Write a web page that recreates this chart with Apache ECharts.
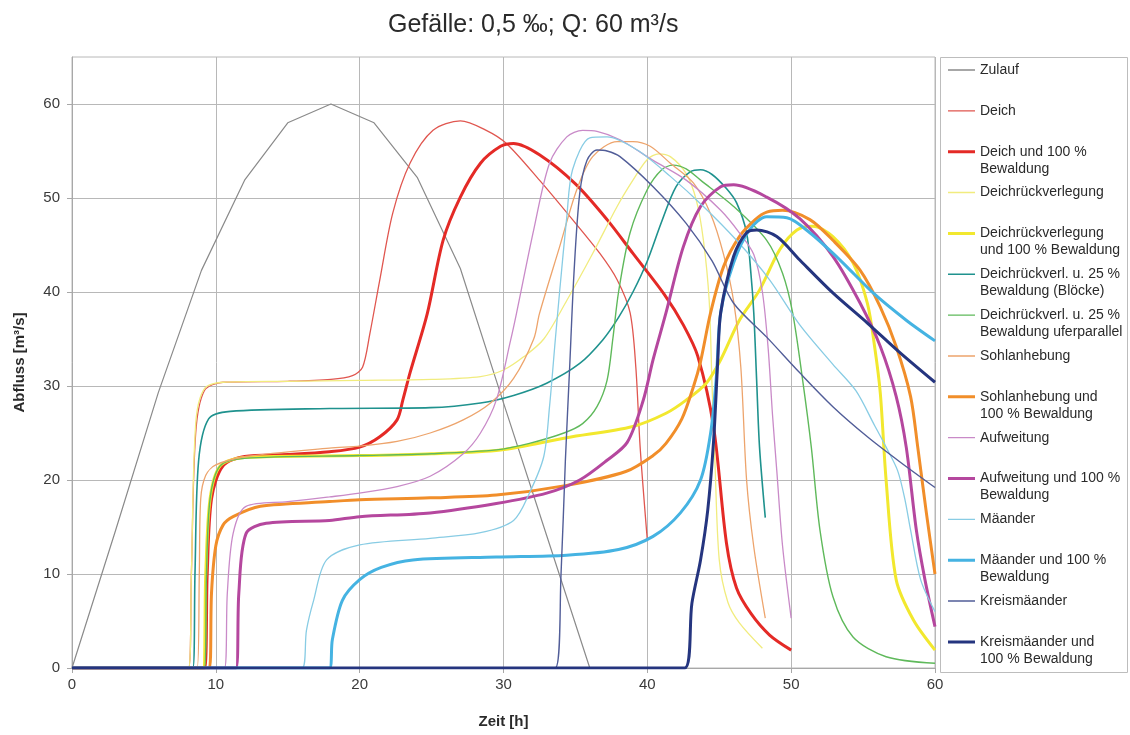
<!DOCTYPE html>
<html>
<head>
<meta charset="utf-8">
<script src="https://cdn.jsdelivr.net/npm/echarts@6/dist/echarts.min.js"></script>
<style>html,body{margin:0;padding:0;background:#fff}#c{width:1130px;height:735px}</style>
</head>
<body>
<div id="c"></div>
<script>
// ---- data (x = Zeit [h], y = Abfluss [m³/s]) ----
const titleText = 'Gefälle: 0,5 ‰; Q: 60 m³/s';
const xTicks = [0, 10, 20, 30, 40, 50, 60];
const yTicks = [0, 10, 20, 30, 40, 50, 60];

const seriesNames = [
  'Zulauf', 'Deich', 'Deich und 100 % Bewaldung', 'Deichrückverlegung',
  'Deichrückverlegung und 100 % Bewaldung', 'Deichrückverl. u. 25 % Bewaldung (Blöcke)',
  'Deichrückverl. u. 25 % Bewaldung uferparallel', 'Sohlanhebung',
  'Sohlanhebung und 100 % Bewaldung', 'Aufweitung', 'Aufweitung und 100 % Bewaldung',
  'Mäander', 'Mäander und 100 % Bewaldung', 'Kreismäander', 'Kreismäander und 100 % Bewaldung'
];
const legendLabels = [
  'Zulauf', 'Deich', 'Deich und 100 %\nBewaldung', 'Deichrückverlegung',
  'Deichrückverlegung\nund 100 % Bewaldung', 'Deichrückverl. u. 25 %\nBewaldung (Blöcke)',
  'Deichrückverl. u. 25 %\nBewaldung uferparallel', 'Sohlanhebung',
  'Sohlanhebung und\n100 % Bewaldung', 'Aufweitung', 'Aufweitung und 100 %\nBewaldung',
  'Mäander', 'Mäander und 100 %\nBewaldung', 'Kreismäander', 'Kreismäander und\n100 % Bewaldung'
];

const zulauf = [[0,0],[3,14.5],[6,29.3],[9,42.3],[12,51.9],[15,58],[18,60],[21,58],[24,52.2],[27,42.5],[30,28.2],[33,14.1],[36,0]];
const deich = [[0,0],[8.1,0],[8.3,10],[8.6,25],[9.2,29.5],[10.5,30.4],[15,30.5],[18,30.7],[19.5,31.1],[20.2,32],[20.7,35.5],[21.4,41.3],[22.3,48.4],[23.5,53.7],[25.1,57.2],[27,58.2],[28.8,57.2],[30.2,55.8],[32.5,51.9],[34.8,47.7],[36.7,44.1],[37.9,41.3],[38.8,37.8],[39.2,32],[39.5,23.5],[40,13.6]];
const deich100 = [[0,0],[9.2,0],[9.4,10],[9.7,18],[10.5,21.5],[12,22.5],[15,22.7],[17.9,23],[20,23.5],[21.4,24.6],[22.6,26.4],[23,28.5],[23.5,31.4],[24.7,37.7],[25.8,45.5],[27,50.1],[28.4,53.7],[29.8,55.5],[30.7,55.8],[32.5,54.6],[35,51.5],[37.2,47.7],[39,44.1],[41.2,39.7],[42.5,36.5],[43.5,33.2],[44.6,25.7],[45.5,13.3],[46.2,8.5],[47.2,5.8],[48.5,3.5],[50,1.9]];
const drv = [[0,0],[8.1,0],[8.3,10],[8.6,26],[9.2,29.7],[10.5,30.4],[15,30.5],[20,30.6],[25,30.7],[28.4,31],[30,31.7],[31.4,33.1],[32.8,35],[34.4,39.1],[36.2,44.1],[37.9,49.1],[39,51.9],[40,54.1],[40.8,54.7],[41.6,54.4],[42.7,52.6],[43.4,49.8],[43.9,45.5],[44.3,39.1],[44.5,30],[44.7,22],[45,11.5],[45.6,7],[46.4,4.8],[48,2.1]];
const drv100 = [[0,0],[9.1,0],[9.3,10],[9.6,18],[10.3,21.5],[12,22.4],[20,22.6],[25,22.8],[29.8,23.2],[34.4,24.5],[39,25.7],[41.3,27.1],[42.7,28.5],[44.1,30.3],[45.1,32.8],[46.4,37],[47.8,40.2],[49.2,44.5],[50.4,46.6],[51.5,47],[52.9,45.9],[54.3,43.1],[55.3,38.8],[55.8,34.2],[56.2,29.2],[56.6,20],[57.3,9.4],[58.5,5.1],[60,1.9]];
const bloecke = [[0,0],[8.4,0],[8.55,10],[8.8,22],[9.5,26.5],[11,27.3],[17.9,27.6],[24.9,27.7],[28.4,28.2],[30.7,29],[33,30.3],[35.3,32.4],[36.9,34.9],[38,37.3],[39,40],[40,43.3],[41,47.5],[42,51.2],[43,52.8],[43.7,53],[44.5,52.5],[45.5,51],[46.2,49.5],[46.9,46.3],[47.2,42],[47.4,37.8],[47.6,30.6],[47.8,23.5],[48.2,16]];
const uferparallel = [[0,0],[9.2,0],[9.35,10],[9.6,18],[10.3,21.5],[12,22.3],[20,22.6],[25,22.8],[29.5,23.2],[31.8,23.9],[34.2,25],[35.5,26],[36.5,27.8],[37.2,30.6],[37.6,35],[38,40],[38.8,46.3],[40,50.9],[41,53],[41.8,53.5],[42.7,53.1],[43.7,51.9],[46,49.1],[48.3,45.5],[49.4,42],[50.1,37.8],[50.8,30.6],[51.4,23.5],[52,14.7],[52.9,7.6],[54.3,3.3],[56.6,1.2],[60,0.5]];
const sohle = [[0,0],[8.7,0],[8.85,10],[8.95,18],[9.3,20.5],[10,21.6],[12.1,22.5],[17.9,23.4],[20,23.6],[22.6,24.1],[24.9,25],[27.2,26.4],[29.1,28.2],[30.7,30.8],[32.1,35],[32.5,37.7],[33.9,44.8],[35.1,50.9],[36.2,54.4],[37.9,56],[39,56],[40.2,55.5],[41.6,53.7],[43.2,51.6],[44.4,48.3],[45.3,44],[46,39],[46.5,32],[46.9,20],[47.4,12.9],[48.2,5.3]];
const sohle100 = [[0,0],[9.55,0],[9.7,8],[10,13],[10.5,15.2],[11.2,16.1],[13.1,17.2],[17.9,17.7],[20,17.9],[24.9,18.1],[29.5,18.4],[34.3,19.4],[38.5,20.9],[40.4,22.6],[41.3,23.9],[42.4,26.5],[43.2,29.9],[43.7,32.6],[44.4,37.8],[45.3,42.7],[46.4,45.9],[47.5,47.7],[48.3,48.5],[49.4,48.7],[51.3,47.7],[52.9,45.5],[54.8,42.3],[56.2,38.4],[57.3,34.2],[58.3,28.9],[58.8,23.5],[59.4,16.5],[60,10]];
const aufweitung = [[0,0],[10.6,0],[10.8,8],[11.2,14.3],[12.1,17.2],[15,17.7],[17.9,18.2],[20,18.6],[22.6,19.3],[24.9,20.4],[27.2,22.8],[28.4,25],[29.5,28.5],[30.5,34.9],[30.9,37.7],[32.1,46.6],[33.2,53.7],[34.4,56.5],[35.5,57.2],[36.5,57.1],[38.1,56.2],[40.4,54],[42.7,51.9],[45.1,48.7],[46.4,46.3],[47.4,44],[48,40],[48.4,34],[48.7,27],[49,21],[49.4,13],[50,5.3]];
const aufweitung100 = [[0,0],[11.4,0],[11.6,8],[12.1,14.3],[13.5,15.4],[17.9,15.7],[20,16.1],[24.9,16.5],[29.5,17.5],[33,18.6],[35.3,20],[37.2,22.1],[38.6,24],[39.7,28.4],[40.4,32.8],[41.3,37.8],[42.5,44.8],[43.7,49.1],[45.1,51.2],[46,51.4],[48.3,50.1],[50.6,47.8],[52.9,43.8],[54.8,38.8],[56.2,34.2],[57.3,28.9],[58,23.5],[58.7,14.7],[59.3,9.4],[60,4.4]];
const maeander = [[0,0],[16,0],[16.3,4],[16.8,7.2],[17.7,11.5],[20,13.1],[24.9,13.8],[28.4,14.4],[30.7,15.7],[31.8,18.6],[32.8,22.5],[33.2,27.8],[33.6,34.9],[33.9,40],[34.4,48],[34.8,53],[36,56.4],[37.2,56.5],[39.3,55.1],[41.6,52.3],[43.9,49.1],[46.2,45.5],[48.5,41.3],[50.6,36.5],[52.9,32.3],[54.5,29.5],[55.8,25.8],[56.6,23.5],[57.4,21],[57.9,18],[58.3,14.7],[59,9.4],[60,6]];
const maeander100 = [[0,0],[17.9,0],[18.1,3],[18.8,7.2],[20,9.4],[21.5,10.7],[23.7,11.5],[29.5,11.8],[34.4,12],[38,12.6],[40.4,14],[42.3,16.5],[43.7,20],[44.4,25],[44.8,31],[45.1,37.8],[46,43.1],[47.1,46.6],[48.3,48],[49.7,47.9],[51.3,46.3],[53.4,43.4],[55.7,39.9],[58,37],[60,34.8]];
const kreis = [[0,0],[33.6,0],[34,10],[34.3,22],[34.6,32],[34.9,42],[35.3,50.5],[35.8,54],[36.5,55.1],[37.2,55],[38.1,54.4],[40.4,51.2],[42.7,47.3],[44.5,43.3],[46,38.8],[48.3,35.2],[50.6,31.4],[52.9,27.8],[55.3,24.6],[57.5,22],[60,19.2]];
const kreis100 = [[0,0],[42.6,0],[43.1,6.9],[43.7,11.5],[44.2,16.8],[44.6,24],[44.9,32.8],[45.1,37.8],[46,43.8],[46.9,46.3],[47.6,46.6],[49,45.9],[50.6,43.4],[52.9,39.9],[55.3,36.7],[57.6,33.5],[60,30.4]];

const seriesData = [zulauf, deich, deich100, drv, drv100, bloecke, uferparallel, sohle, sohle100,
  aufweitung, aufweitung100, maeander, maeander100, kreis, kreis100];

// ---- styles ----
const colors = ['#8a8a8a', '#e0564f', '#e42a26', '#f1ec7e', '#f2e82e', '#1f928e', '#5fb95b',
  '#eda46c', '#f18e2a', '#c98ac8', '#b5479e', '#88cce4', '#45b3e2', '#515d98', '#25357f'];
const widths = [1.2, 1.3, 3, 1.3, 3, 1.6, 1.4, 1.3, 3, 1.3, 3, 1.3, 3, 1.4, 3];

const series = seriesNames.map((n, i) => ({
  name: n,
  type: 'line',
  data: seriesData[i],
  showSymbol: false,
  symbol: 'none',
  smooth: i === 0 ? false : 0.3,
  lineStyle: { color: colors[i], width: widths[i] },
  itemStyle: { color: colors[i] },
  emphasis: { disabled: true },
  z: 2
}));

// legend icon: a bar at the height of the first text line, inside a frame as tall as the text
function legendIcon(lines, w) {
  const h = lines * 17;
  const a = 8.5 - w / 2, b = 8.5 + w / 2;
  return 'path://M0,' + a + 'L27,' + a + 'L27,' + b + 'L0,' + b + 'Z' +
    'M0,0L0.01,0L0,0.01Z' + 'M27,' + h + 'L26.99,' + h + 'L27,' + (h - 0.01) + 'Z';
}

const legends = seriesNames.map((n, i) => {
  const lines = legendLabels[i].split('\n').length;
  const center = 70 + i * 40.85;
  return {
    data: [n],
    left: 948,
    top: center - 8.5,
    padding: 0,
    itemWidth: 27,
    itemHeight: lines * 17,
    icon: legendIcon(lines, widths[i] > 2 ? 3 : 1.4),
    itemStyle: { borderWidth: 0 },
    selectedMode: false,
    formatter: () => legendLabels[i],
    textStyle: {
      fontFamily: 'Liberation Sans, Arial, sans-serif',
      fontSize: 14, color: '#2a2a2a', lineHeight: 17
    }
  };
});

const chart = echarts.init(document.getElementById('c'), null, { renderer: 'canvas' });
chart.setOption({
  animation: false,
  backgroundColor: '#ffffff',
  title: {
    text: titleText, left: 383, top: 8,
    textStyle: { fontFamily: 'Liberation Sans, Arial, sans-serif', fontSize: 25, fontWeight: 'normal', color: '#2a2a2a' }
  },
  graphic: [{
    type: 'rect', shape: { x: 940.5, y: 57.5, width: 187, height: 615 },
    style: { fill: 'none', stroke: '#bdbdbd', lineWidth: 1 }, silent: true
  }],
  legend: legends,
  grid: { left: 72, right: 195, top: 57, bottom: 67, show: true, borderColor: '#b8b8b8', borderWidth: 1 },
  xAxis: {
    type: 'value', min: xTicks[0], max: xTicks[xTicks.length - 1], interval: 10,
    name: 'Zeit [h]', nameLocation: 'middle', nameGap: 46,
    nameTextStyle: { fontFamily: 'Liberation Sans, Arial, sans-serif', fontSize: 15, fontWeight: 'bold', color: '#2a2a2a' },
    axisLine: { lineStyle: { color: '#a8a8a8' } },
    axisTick: { show: true, length: 5, lineStyle: { color: '#a8a8a8' } },
    axisLabel: { fontFamily: 'Liberation Sans, Arial, sans-serif', fontSize: 15, color: '#3a3a3a', margin: 9 },
    splitLine: { show: true, lineStyle: { color: '#b8b8b8', width: 1 } }
  },
  yAxis: {
    type: 'value', min: 0, max: 65, interval: 10,
    name: 'Abfluss [m³/s]', nameLocation: 'middle', nameGap: 45,
    nameTextStyle: { fontFamily: 'Liberation Sans, Arial, sans-serif', fontSize: 15, fontWeight: 'bold', color: '#2a2a2a' },
    axisLine: { show: true, lineStyle: { color: '#a8a8a8' } },
    axisTick: { show: true, length: 5, lineStyle: { color: '#a8a8a8' }, customValues: yTicks },
    axisLabel: {
      fontFamily: 'Liberation Sans, Arial, sans-serif', fontSize: 15, color: '#3a3a3a', margin: 12,
      customValues: yTicks,
      formatter: v => (yTicks.indexOf(v) >= 0 ? String(v) : '')
    },
    splitLine: { show: true, lineStyle: { color: '#b8b8b8', width: 1 } }
  },
  series: series
});
</script>
</body>
</html>
